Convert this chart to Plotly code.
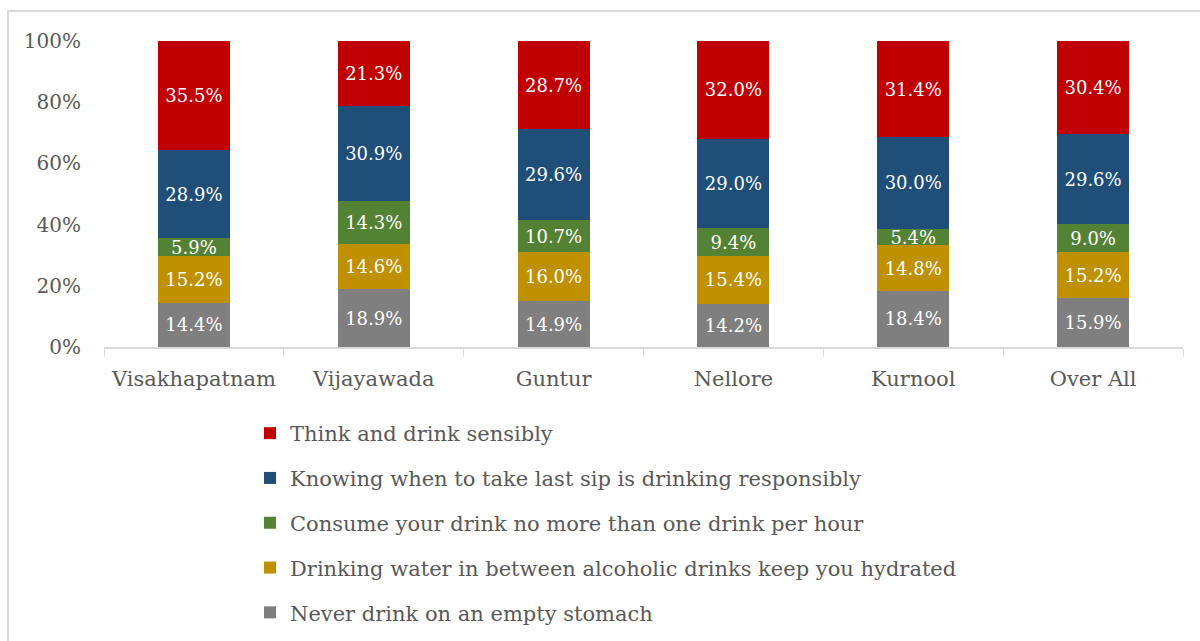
import plotly.graph_objects as go

cities = ["Visakhapatnam", "Vijayawada", "Guntur", "Nellore", "Kurnool", "Over All"]

never_empty = [14.4, 18.9, 14.9, 14.2, 18.4, 15.9]
water_between = [15.2, 14.6, 16.0, 15.4, 14.8, 15.2]
one_per_hour = [5.9, 14.3, 10.7, 9.4, 5.4, 9.0]
last_sip = [28.9, 30.9, 29.6, 29.0, 30.0, 29.6]
think_sensibly = [35.5, 21.3, 28.7, 32.0, 31.4, 30.4]

series = [
    ("Never drink on an empty stomach", never_empty, "#7f7f7f"),
    ("Drinking water in between alcoholic drinks keep you hydrated", water_between, "#bf9000"),
    ("Consume your drink no more than one drink per hour", one_per_hour, "#548235"),
    ("Knowing when to take last sip is drinking responsibly", last_sip, "#1f4e79"),
    ("Think and drink sensibly", think_sensibly, "#c00000"),
]

FONT = "DejaVu Serif"
GREY_TEXT = "#595959"

fig = go.Figure()
for i, (name, vals, color) in enumerate(series):
    fig.add_trace(go.Bar(
        x=cities, y=vals, name=name,
        marker=dict(color=color, line=dict(width=0)),
        text=[f"{v:.1f}%" for v in vals],
        textposition="inside", insidetextanchor="middle", textangle=0,
        textfont=dict(family=FONT, size=18, color="white"),
        legendgroup=f"g{i}", legendrank=len(series) - i,
    ))

# plot area in pixels: x 104..1183, y 41..347
L, R, T, B = 104, 17, 41, 294
W, H = 1200 - L - R, 641 - T - B

def px(x):
    return (x - L) / W

def py(y):
    return (641 - B - y) / H

fig.update_layout(
    width=1200, height=641,
    barmode="stack", bargap=0.6,
    margin=dict(l=L, r=R, t=T, b=B, autoexpand=False),
    paper_bgcolor="white", plot_bgcolor="white",
    font=dict(family=FONT, size=20, color=GREY_TEXT),
    uniformtext=dict(minsize=18, mode="show"),
    showlegend=True,
    legend=dict(
        x=px(250), y=py(413), xanchor="left", yanchor="top",
        traceorder="grouped", tracegroupgap=14.5,
        font=dict(family=FONT, size=21, color=GREY_TEXT),
        itemwidth=30,
    ),
    xaxis=dict(
        showline=True, linecolor="#d9d9d9", linewidth=1.5,
        ticks="outside", tickson="boundaries", ticklen=8, tickcolor="#d9d9d9",
        tickfont=dict(family=FONT, size=21, color=GREY_TEXT),
        ticklabelstandoff=12,
        showgrid=False,
    ),
    yaxis=dict(
        range=[0, 100], tickvals=[0, 20, 40, 60, 80, 100],
        ticktext=["0%", "20%", "40%", "60%", "80%", "100%"],
        showgrid=False, showline=False, zeroline=False, ticks="",
        tickfont=dict(family=FONT, size=20, color=GREY_TEXT),
        ticklabelstandoff=22,
    ),
    shapes=[dict(
        type="rect", xref="paper", yref="paper",
        x0=px(8), x1=px(1210), y0=py(660), y1=py(11),
        line=dict(color="#d9d9d9", width=2), fillcolor="rgba(0,0,0,0)", layer="below",
    )],
)

fig.write_html("out.html")
